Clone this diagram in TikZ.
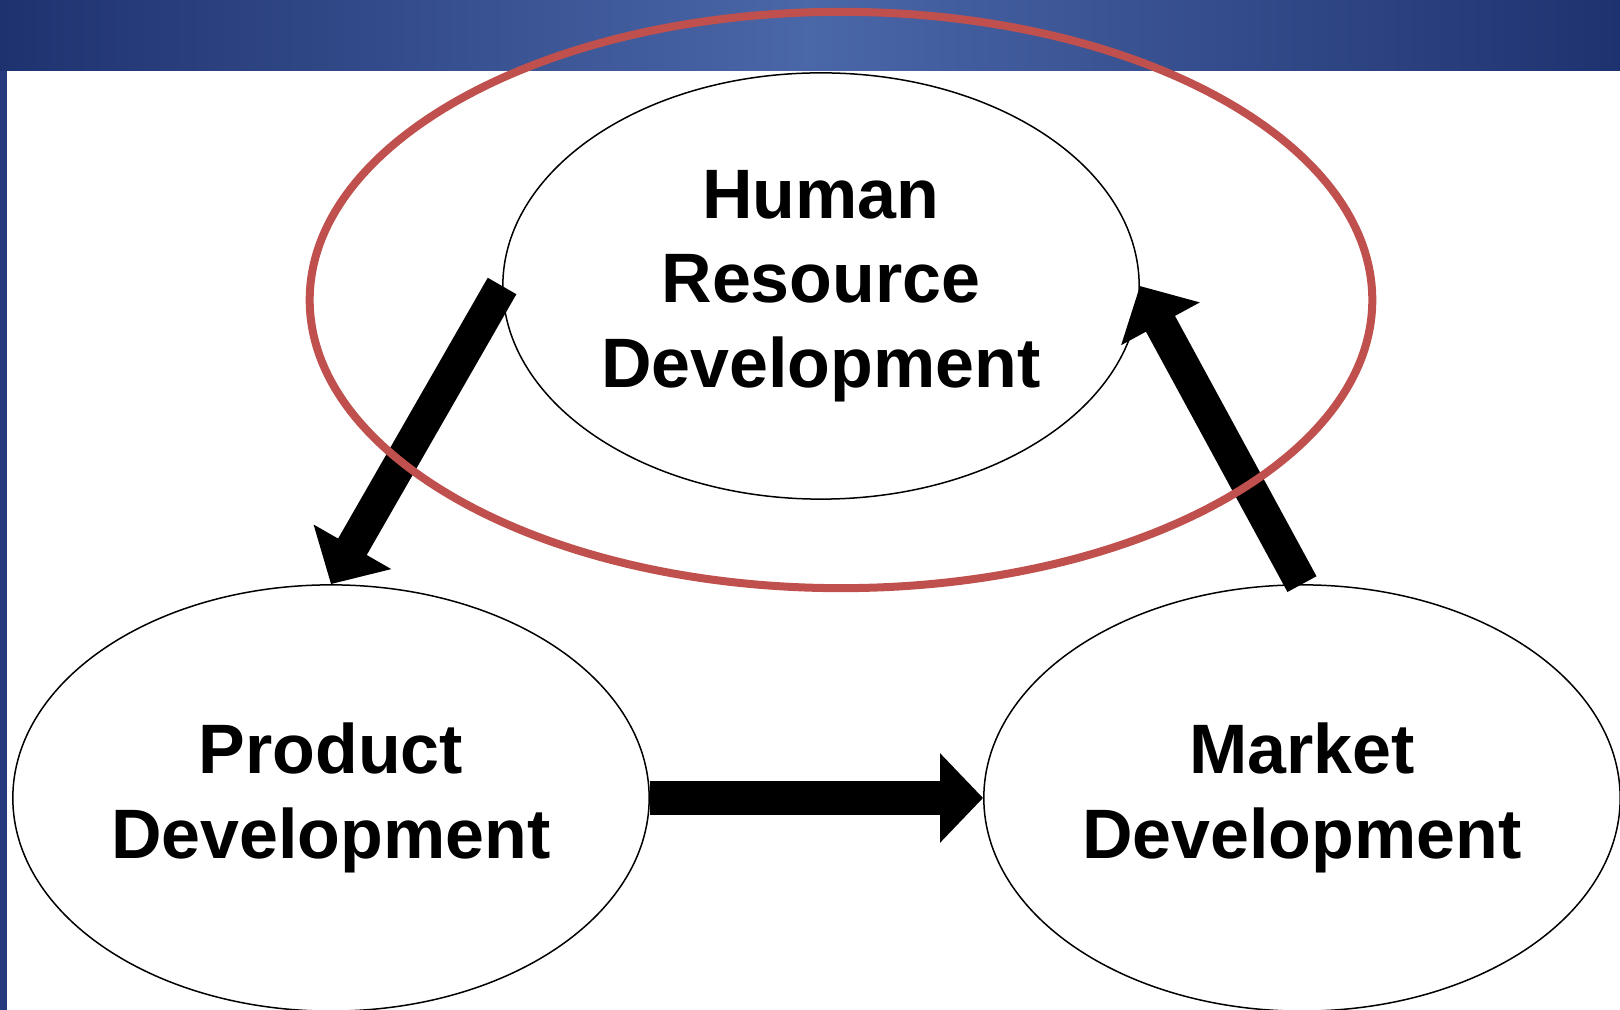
\documentclass[tikz,border=0pt]{standalone}
\usepackage{fontspec}
\setmainfont{Liberation Sans}
\usetikzlibrary{shapes.geometric,arrows.meta}
\definecolor{navydark}{RGB}{31,50,112}
\definecolor{navylight}{RGB}{74,103,168}
\definecolor{stripblue}{RGB}{38,58,125}
\definecolor{hlred}{RGB}{192,80,77}
\tikzset{
  bubble/.style={draw=black, line width=0.015cm, fill=white, ellipse, inner sep=0pt,
    minimum width=6.36cm, minimum height=4.26cm, align=center,
    font=\bfseries\fontsize{19.9pt}{24pt}\selectfont},
  bigarrow/.style={line width=0.33cm, -{Triangle[length=0.43cm,width=0.87cm]}},
  highlight/.style={draw=hlred, line width=0.08cm, ellipse, inner sep=0pt,
    minimum width=10.62cm, minimum height=5.76cm}
}
\begin{document}
\begin{tikzpicture}[x=0.01cm,y=-0.01cm]
\useasboundingbox (0,0) rectangle (1620,1010);
% background
\fill[white] (0,0) rectangle (1620,1010);
\shade[left color=navydark, right color=navydark, middle color=navylight] (0,0) rectangle (1620,71);
\fill[stripblue] (0,71) rectangle (7,1010);
% bubbles
\node[bubble] (hrd) at (821,286) {Human\\Resource\\Development};
\node[bubble] (prod) at (331,798) {Product\\Development};
\node[bubble] (mkt) at (1302,798) {Market\\Development};
% arrows
\draw[bigarrow] (hrd.west) -- (prod.north);
\draw[bigarrow] (prod.east) -- (mkt.west);
\draw[bigarrow] (mkt.north) -- (hrd.east);
% highlight
\node[highlight] (hl) at (841,300) {};
\end{tikzpicture}
\end{document}
